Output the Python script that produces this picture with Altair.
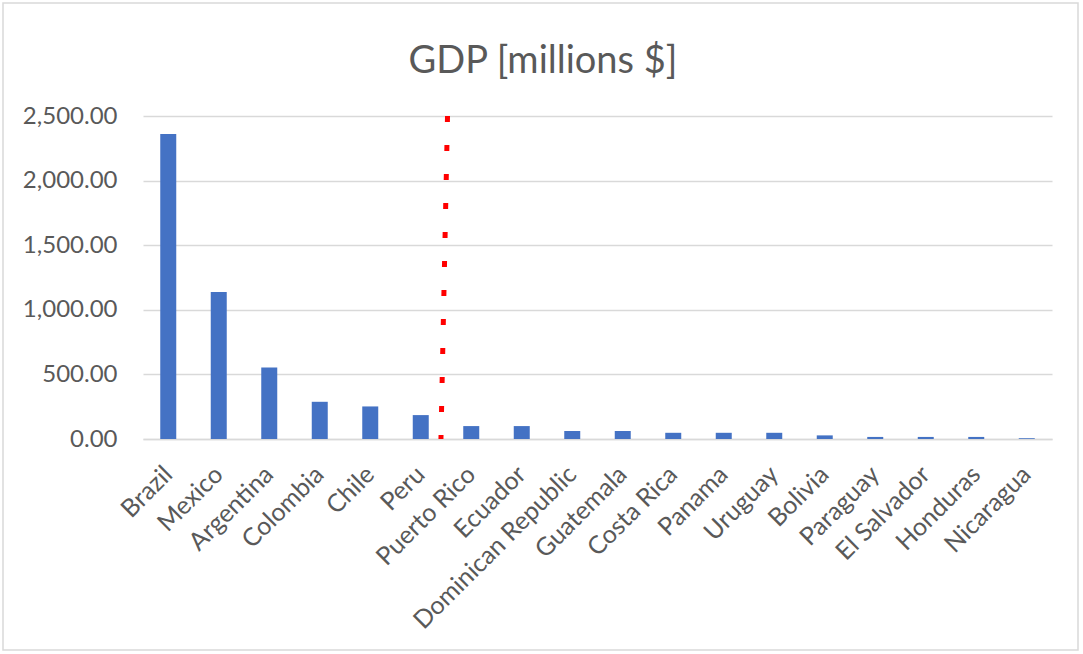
import altair as alt
import pandas as pd

countries = ["Brazil", "Mexico", "Argentina", "Colombia", "Chile", "Peru",
             "Puerto Rico", "Ecuador", "Dominican Republic", "Guatemala",
             "Costa Rica", "Panama", "Uruguay", "Bolivia", "Paraguay",
             "El Salvador", "Honduras", "Nicaragua"]
gdp = [2360, 1137, 553, 288, 252, 185, 100, 100, 62, 62, 48, 48, 48, 28, 16, 16, 16, 6]

# cut-off line position in category-index units (0..18) and value
cut_x = [5.90, 6.03]
cut_y = [0, 2500]

y_ticks = [0, 500, 1000, 1500, 2000, 2500]
title_text = ["GDP [millions $]"]

df = pd.DataFrame({"country": countries, "gdp": gdp})
cut = pd.DataFrame({"xi": cut_x, "gdp": cut_y})
single = pd.DataFrame({"t": title_text})

FONT = "Lato"
GREY = "#595959"

bars = alt.Chart(df).mark_bar(size=16, color="#4472C4").encode(
    x=alt.X("country:N", sort=countries, title=None,
            scale=alt.Scale(paddingInner=0.68, paddingOuter=0.34),
            axis=alt.Axis(labelAngle=-45, labelAlign="right", labelBaseline="middle",
                          labelPadding=31, ticks=False, domainColor="#D9D9D9",
                          domainWidth=1.5, labelColor=GREY, labelFontSize=25,
                          labelFont=FONT, grid=False, labelLimit=0)),
    y=alt.Y("gdp:Q", title=None,
            scale=alt.Scale(domain=[0, 2500], nice=False),
            axis=alt.Axis(values=y_ticks, format=",.2f", ticks=False, domain=False,
                          gridColor="#D9D9D9", gridWidth=1.5, labelColor=GREY,
                          labelFontSize=24, labelFont=FONT, labelPadding=26))
)

line = alt.Chart(cut).mark_line(color="#FF0000", strokeWidth=5,
                                strokeDash=[6, 23], strokeCap="butt").encode(
    x=alt.X("xi:Q", scale=alt.Scale(domain=[0, 18], nice=False, zero=False), axis=None),
    y=alt.Y("gdp:Q"),
    order=alt.Order("gdp:Q", sort="descending")
)

frame = alt.Chart(single).mark_rect(fill=None, stroke="#D9D9D9", strokeWidth=1.5).encode(
    x=alt.value(-140), x2=alt.value(935), y=alt.value(-113), y2=alt.value(534)
)

title = alt.Chart(single).mark_text(fontSize=38, font=FONT, color=GREY, align="center",
                                    baseline="alphabetic", fontWeight="normal").encode(
    text="t:N", x=alt.value(400), y=alt.value(-43)
)

chart = alt.layer(bars, line, frame, title).resolve_scale(x="independent").properties(
    width=909, height=323, background="white",
    autosize=alt.AutoSizeParams(type="none"),
    padding={"left": 143, "top": 116, "right": 31, "bottom": 215},
).configure_view(stroke=None)

chart.save("out.html", embed_options={"renderer": "svg", "actions": False})
